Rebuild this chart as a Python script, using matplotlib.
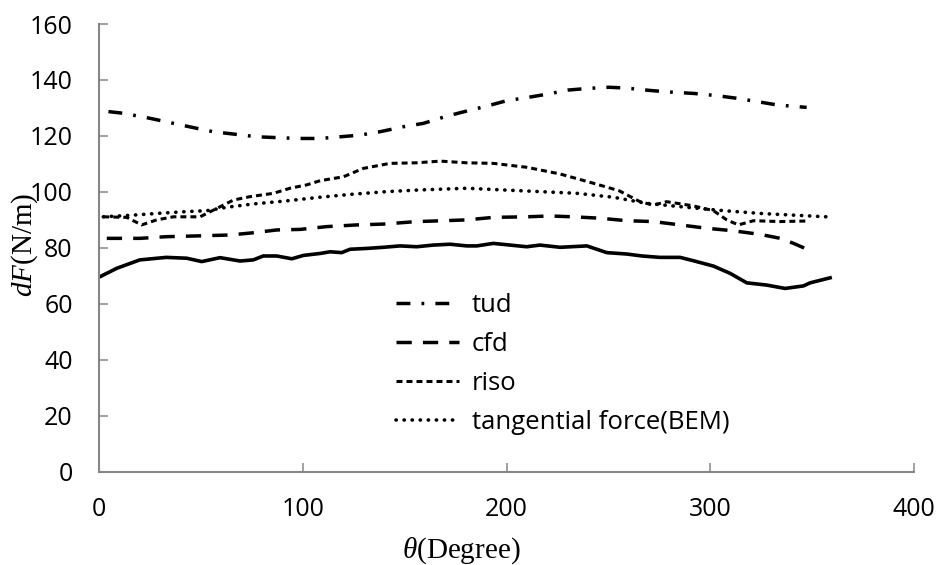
import matplotlib
matplotlib.use("Agg")
import matplotlib.pyplot as plt

# solid line (not in legend)
solid_x = [0.5, 8.7, 20, 33, 43, 50.4, 59.4, 69.2, 75.7, 80.6, 87.2, 94.6, 100.3, 108.5, 113.4,
           119.1, 123.2, 131.4, 139.5, 147.7, 155.9, 164.1, 172.3, 180.5, 185.4, 193.5, 201.7,
           209.9, 216.4, 226.3, 239.4, 249.2, 259, 266.4, 275.3, 285.2, 291.7, 301.5, 309.7,
           317.9, 327.7, 336.7, 345.7, 349, 358.8]
solid_y = [69.7, 72.7, 75.7, 76.6, 76.3, 75.1, 76.5, 75.3, 75.7, 77.1, 77.1, 76.1, 77.3, 78.0, 78.6,
           78.3, 79.5, 79.8, 80.2, 80.7, 80.4, 81.0, 81.3, 80.7, 80.7, 81.6, 81.0,
           80.4, 81.0, 80.2, 80.7, 78.3, 77.8, 77.1, 76.6, 76.6, 75.4, 73.5, 70.9,
           67.5, 66.7, 65.5, 66.4, 67.5, 69.3]

tud_x = [4.6, 11.9, 25, 36.5, 45.5, 56.1, 66.8, 77.4, 87.2, 97.8, 108.5, 118.3, 128.1, 137.9,
         149.4, 159.2, 169, 177.2, 189.4, 200.1, 209.9, 219.7, 230.3, 240.2, 250.3, 259, 271.3,
         281.9, 291.7, 303.2, 312.6, 322.8, 332.6, 347.3]
tud_y = [128.7, 128.1, 126.3, 124.5, 123.1, 121.5, 120.6, 119.7, 119.4, 119.1, 119.1, 119.7, 120.3,
         121.5, 123.3, 124.5, 126.7, 128.3, 130.5, 132.6, 133.7, 134.9, 136.4, 137.0, 137.4, 137.1,
         136.2, 135.6, 135.2, 134.4, 133.5, 132.3, 131.1, 130.2]

cfd_x = [3.8, 20.1, 33.2, 49.6, 64.3, 75.7, 87.2, 98.7, 111.8, 126.5, 139.5, 155.9, 169, 180.5,
         193.5, 209.9, 221.2, 232.7, 245.9, 259, 272, 285.2, 298.3, 311.4, 324.6, 334.4, 340.9, 347.5]
cfd_y = [83.4, 83.4, 84.0, 84.3, 84.6, 85.4, 86.4, 86.6, 87.6, 88.2, 88.5, 89.4, 89.7, 90.0,
         90.9, 91.1, 91.4, 91.1, 90.6, 89.7, 89.4, 88.2, 87.0, 86.1, 84.8, 83.4, 81.6, 79.5]

riso_x = [2.1, 13.6, 20.9, 28.3, 36.5, 49.6, 57.8, 66, 74.1, 85.6, 93.7, 101.9, 108.5, 119.9,
          129.7, 142.8, 155.9, 167.4, 180.5, 193.5, 209.9, 226.3, 242.6, 255.3, 265.5, 272,
          278.6, 291.7, 301.5, 308.1, 313.8, 321.2, 334.4, 347.5]
riso_y = [91.1, 90.9, 88.2, 90.0, 91.1, 91.1, 94.1, 97.1, 98.3, 99.5, 101.3, 102.5, 104.0, 105.4,
          108.4, 110.2, 110.4, 111.0, 110.4, 110.2, 108.8, 106.4, 103.1, 100.4, 96.5, 95.3,
          96.5, 95.0, 93.3, 90.0, 88.2, 89.7, 89.4, 89.6]

bem_x = [2.1, 16.8, 28.3, 41.4, 52.9, 62.7, 75.7, 92.1, 108.5, 124.8, 141.2, 157.5, 180.5,
         198.4, 216.4, 234.4, 252.4, 268.8, 288.4, 306.4, 324.6, 340.9, 357.1]
bem_y = [91.1, 91.7, 92.3, 92.9, 93.3, 94.5, 95.7, 96.8, 98.1, 99.2, 100.1, 100.7, 101.3,
         100.7, 100.1, 99.5, 98.1, 95.9, 94.5, 93.3, 92.3, 91.7, 91.1]

x_ticks = [0, 100, 200, 300, 400]
y_ticks = [0, 20, 40, 60, 80, 100, 120, 140, 160]

plt.rcParams['lines.scale_dashes'] = False
plt.rcParams['mathtext.fontset'] = 'custom'
plt.rcParams['mathtext.it'] = 'Liberation Serif:italic'
plt.rcParams['mathtext.rm'] = 'Liberation Serif'

fig = plt.figure(figsize=(9.37, 5.65), dpi=100)
ax = fig.add_axes([0.1057, 0.1651, 0.8698, 0.7924])

k = 'black'
ax.plot(tud_x, tud_y, color=k, lw=2.5, dashes=(10, 8, 2, 8), label='tud')
ax.plot(cfd_x, cfd_y, color=k, lw=2.5, dashes=(11, 8), label='cfd')
ax.plot(riso_x, riso_y, color=k, lw=2.2, dashes=(4.3, 2.9), label='riso')
ax.plot(bem_x, bem_y, color=k, lw=2.6, dashes=(0.2, 5.6), dash_capstyle='round',
        label='tangential force(BEM)')
ax.plot(solid_x, solid_y, color=k, lw=2.6)

ax.set_xlim(0, 400)
ax.set_ylim(0, 160)
ax.set_xticks(x_ticks)
ax.set_yticks(y_ticks)

for s in ['top', 'right']:
    ax.spines[s].set_visible(False)
for s in ['left', 'bottom']:
    ax.spines[s].set_color('#868686')
    ax.spines[s].set_linewidth(1.5)

tick_font = 'Open Sans'
ax.tick_params(direction='in', length=6.5, width=1.1, color='#868686',
               labelsize=18, labelcolor='black')
ax.tick_params(axis='x', pad=18)
ax.tick_params(axis='y', pad=19)
for t in ax.get_xticklabels() + ax.get_yticklabels():
    t.set_fontfamily(tick_font)

ax.set_xlabel(r'$\theta$(Degree)', fontfamily='Liberation Serif', fontsize=21, va='center')
ax.xaxis.set_label_coords(0.444, -0.176)
ax.set_ylabel(r'$dF$(N/m)', fontfamily='Liberation Serif', fontsize=21, va='center')
ax.yaxis.set_label_coords(-0.091, 0.506)

leg = ax.legend(loc='upper left', bbox_to_anchor=(396 / 937, 1 - 293 / 565),
                bbox_transform=fig.transFigure, frameon=False,
                prop={'family': tick_font, 'size': 18.5},
                handlelength=2.45, handletextpad=0.5, labelspacing=0.55,
                borderpad=0, borderaxespad=0)

fig.savefig('out.png', dpi=100)
